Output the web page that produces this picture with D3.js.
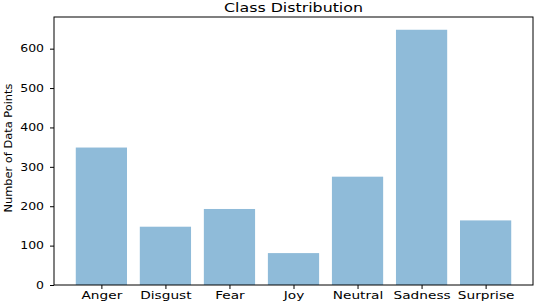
<!DOCTYPE html>
<html>
<head>
<meta charset="utf-8">
<script src="https://cdn.jsdelivr.net/npm/d3@7"></script>
<style>
    body { margin: 0; background: #fff; }
    svg { display: block; font-family: "DejaVu Sans", sans-serif; }
</style>
</head>
<body>
<div id="chart_parent"></div>
<script>
const categories = ['Anger', 'Disgust', 'Fear', 'Joy', 'Neutral', 'Sadness', 'Surprise'];
const counts = [349, 148, 193, 81, 275, 648, 164];
const yTicks = [0, 100, 200, 300, 400, 500, 600];

const chartConfig = {
    outerWidth: 534,
    outerHeight: 304,
    plot: { left: 54, right: 533, top: 17, bottom: 285 },
    barColor: '#8fbbd9',
};

function drawChart(config) {
    const { plot } = config;

    const svg = d3.select('#chart_parent').append('svg')
        .attr('width', config.outerWidth)
        .attr('height', config.outerHeight);

    // matplotlib-style: bars at 0..n-1, width 0.8, 5% margins
    const n = categories.length;
    const pad = (n - 1 + 0.8) * 0.05;
    const xScale = d3.scaleLinear()
        .domain([-0.4 - pad, n - 1 + 0.4 + pad])
        .range([plot.left, plot.right]);

    const yScale = d3.scaleLinear()
        .domain([0, d3.max(counts) * 1.05])
        .range([plot.bottom, plot.top]);

    svg.selectAll('.bar')
        .data(counts)
        .enter()
        .append('rect')
        .attr('class', 'bar')
        .attr('x', (d, i) => xScale(i - 0.4))
        .attr('width', (d, i) => xScale(i + 0.4) - xScale(i - 0.4))
        .attr('y', d => yScale(d))
        .attr('height', d => yScale(0) - yScale(d))
        .attr('fill', config.barColor);

    const xAxis = d3.axisBottom(xScale)
        .tickValues(d3.range(n))
        .tickFormat(i => categories[i])
        .tickSize(4)
        .tickPadding(3);

    const xAxisGroup = svg.append('g')
        .attr('transform', `translate(0,${plot.bottom})`)
        .call(xAxis)
        .attr('font-family', '"DejaVu Sans", sans-serif');
    xAxisGroup.select('.domain').remove();
    // the reference text is stretched sideways
    xAxisGroup.selectAll('text')
        .attr('font-size', 10)
        .attr('fill', '#000')
        .attr('transform', 'scale(1.37,1)');

    const yAxis = d3.axisLeft(yScale)
        .tickValues(yTicks)
        .tickSize(4)
        .tickPadding(6);

    const yAxisGroup = svg.append('g')
        .attr('transform', `translate(${plot.left},0)`)
        .call(yAxis)
        .attr('font-family', '"DejaVu Sans", sans-serif');
    yAxisGroup.select('.domain').remove();
    yAxisGroup.selectAll('text')
        .attr('x', 0)
        .attr('font-size', 10)
        .attr('fill', '#000')
        .attr('transform', 'translate(-10,0) scale(1.25,1)');

    svg.selectAll('.tick line').attr('stroke', '#000');

    // frame (all four spines)
    svg.append('rect')
        .attr('x', plot.left)
        .attr('y', plot.top)
        .attr('width', plot.right - plot.left)
        .attr('height', plot.bottom - plot.top)
        .attr('fill', 'none')
        .attr('stroke', '#000')
        .attr('stroke-width', 1);

    svg.append('text')
        .attr('x', (plot.left + plot.right) / 2)
        .attr('y', 12)
        .attr('text-anchor', 'middle')
        .attr('font-size', 12)
        .attr('textLength', 139)
        .attr('lengthAdjust', 'spacingAndGlyphs')
        .text('Class Distribution');

    svg.append('text')
        .attr('transform', 'translate(12,148) rotate(-90)')
        .attr('text-anchor', 'middle')
        .attr('font-size', 10.5)
        .attr('textLength', 129)
        .attr('lengthAdjust', 'spacingAndGlyphs')
        .text('Number of Data Points');
}

drawChart(chartConfig);
</script>
</body>
</html>
